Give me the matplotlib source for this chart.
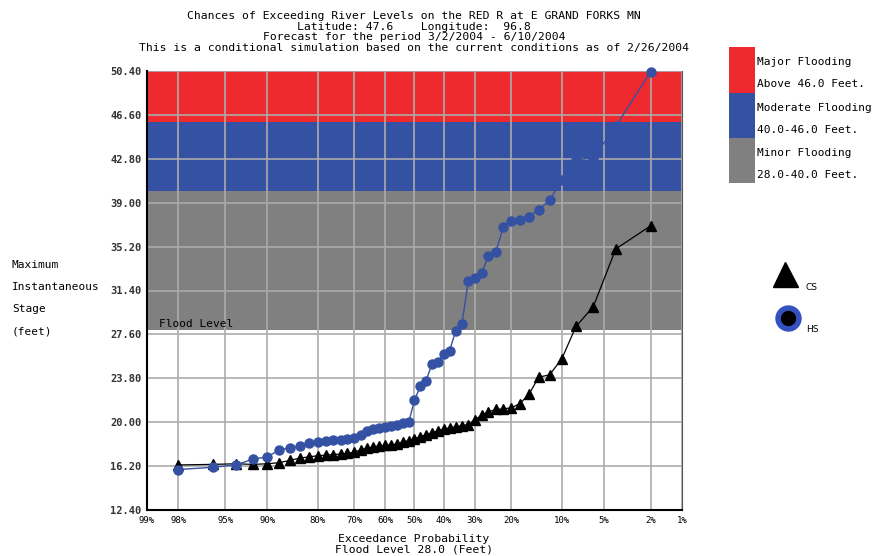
import numpy as np
import matplotlib
matplotlib.use("Agg")
import matplotlib.pyplot as plt
from matplotlib.patches import Rectangle
from matplotlib.lines import Line2D
from statistics import NormalDist

# exceedance probabilities (%) shared by both traces
prob = [98, 96, 94, 92, 90, 88, 86, 84, 82, 80, 78, 76, 74, 72, 70, 68, 66,
        64, 62, 60, 58, 56, 54, 52, 50, 48, 46, 44, 42, 40, 38, 36, 34, 32,
        30, 28, 26, 24, 22, 20, 18, 16, 14, 12, 10, 8, 6, 4, 2]

# conditional simulation (CS), feet
cs_stage = [16.3, 16.35, 16.4, 16.35, 16.4, 16.5, 16.7, 16.9, 17.0, 17.1,
            17.15, 17.2, 17.25, 17.3, 17.4, 17.6, 17.75, 17.85, 17.95, 18.0,
            18.05, 18.1, 18.3, 18.4, 18.55, 18.75, 18.9, 19.1, 19.25, 19.4,
            19.5, 19.6, 19.7, 19.8, 20.2, 20.6, 20.9, 21.1, 21.15, 21.25,
            21.6, 22.4, 23.9, 24.1, 25.5, 28.3, 30.0, 35.0, 37.0]

# historical simulation (HS), feet
hs_stage = [15.9, 16.1, 16.3, 16.8, 17.0, 17.6, 17.8, 17.9, 18.2, 18.3,
            18.4, 18.45, 18.5, 18.55, 18.6, 18.9, 19.2, 19.4, 19.5, 19.6,
            19.7, 19.8, 19.9, 20.0, 21.9, 23.1, 23.6, 25.0, 25.2, 25.9,
            26.2, 27.9, 28.5, 32.2, 32.5, 32.9, 34.4, 34.7, 36.9, 37.4,
            37.5, 37.8, 38.4, 39.2, 41.0, 42.7, 42.9, 45.6, 50.35]

x_ticks = [99, 98, 95, 90, 80, 70, 60, 50, 40, 30, 20, 10, 5, 2, 1]
y_ticks = [12.4, 16.2, 20.0, 23.8, 27.6, 31.4, 35.2, 39.0, 42.8, 46.6, 50.4]

minor_lvl, moderate_lvl, major_lvl = 28.0, 40.0, 46.0
red, blue, grey = "#ee2a2f", "#3451a3", "#808080"

nd = NormalDist()
_inv = np.vectorize(nd.inv_cdf, otypes=[float])
_cdf = np.vectorize(nd.cdf, otypes=[float])


# normal probability scale
def fwd(p):
    p = np.clip(np.asarray(p, dtype=float), 0.01, 99.99)
    return _inv(p / 100.0)


def back(z):
    return 100.0 * _cdf(np.asarray(z, dtype=float))


mono = "DejaVu Sans Mono"
plt.rcParams["font.family"] = mono

fig = plt.figure(figsize=(8.81, 5.56), dpi=100)
ax = fig.add_axes([147 / 881, 1 - 510 / 556, 535 / 881, 439 / 556])

ax.set_xscale("function", functions=(fwd, back))
ax.set_xlim(1, 99)
ax.set_ylim(12.4, 50.4)

# flood bands
ax.axhspan(major_lvl, 50.4, color=red, zorder=0, lw=0)
ax.axhspan(moderate_lvl, major_lvl, color=blue, zorder=0, lw=0)
ax.axhspan(minor_lvl, moderate_lvl, color=grey, zorder=0, lw=0)

ax.set_xticks(x_ticks)
ax.set_xticklabels([f"{t}%" for t in x_ticks], fontsize=6.5)
ax.xaxis.set_minor_locator(matplotlib.ticker.NullLocator())
ax.set_yticks(y_ticks)
ax.set_yticklabels([f"{t:.2f}" for t in y_ticks], fontsize=7.5,
                   fontweight="bold", color="#333333")
ax.tick_params(length=0, pad=4)
ax.grid(True, color="#ababab", lw=1.2, zorder=1)

# high probability on the left
px99 = ax.transData.transform((99, 20))[0]
px1 = ax.transData.transform((1, 20))[0]
if px99 > px1:
    ax.invert_xaxis()

ax.text(98.7, minor_lvl + 0.05, "Flood Level", fontsize=8, va="bottom",
        ha="left", color="black", zorder=3)

ax.spines["top"].set_visible(False)
ax.spines["right"].set_color("#555555")
ax.spines["left"].set_linewidth(1.5)
ax.spines["bottom"].set_linewidth(1.5)

ax.plot(prob, cs_stage, color="black", lw=0.9, marker="^", ms=7.5,
        zorder=4, clip_on=False)
ax.plot(prob, hs_stage, color=blue, lw=1.0, marker="o", ms=6.5,
        zorder=5, clip_on=False)

# titles
title_lines = [
    "Chances of Exceeding River Levels on the RED R at E GRAND FORKS MN",
    "Latitude: 47.6    Longitude:  96.8",
    "Forecast for the period 3/2/2004 - 6/10/2004",
    "This is a conditional simulation based on the current conditions as of 2/26/2004",
]
for i, line in enumerate(title_lines):
    fig.text(414 / 881, 1 - (16 + i * 10.5) / 556, line, ha="center",
             va="center", fontsize=8.2)

fig.text(414 / 881, 1 - 539 / 556, "Exceedance Probability", ha="center",
         va="center", fontsize=8.2)
fig.text(414 / 881, 1 - 549 / 556, "Flood Level 28.0 (Feet)", ha="center",
         va="center", fontsize=8.2)

for i, line in enumerate(["Maximum", "Instantaneous", "Stage", "(feet)"]):
    fig.text(12 / 881, 1 - (265 + i * 22) / 556, line, ha="left",
             va="center", fontsize=8)

# flood category legend
boxes = [(47, 93, red, "Major Flooding", "Above 46.0 Feet."),
         (93, 138, blue, "Moderate Flooding", "40.0-46.0 Feet."),
         (138, 183, grey, "Minor Flooding", "28.0-40.0 Feet.")]
for top, bot, col, t1, t2 in boxes:
    fig.patches.append(Rectangle((729 / 881, 1 - bot / 556), 26 / 881,
                                 (bot - top) / 556, transform=fig.transFigure,
                                 color=col, lw=0))
    fig.text(757 / 881, 1 - (top + 15) / 556, t1, fontsize=8, va="center")
    fig.text(757 / 881, 1 - (top + 37) / 556, t2, fontsize=8, va="center")

# series legend
fig.add_artist(Line2D([785 / 881], [1 - 274 / 556], marker="^", ms=18,
                      color="black", transform=fig.transFigure))
fig.text(806 / 881, 1 - 287 / 556, "CS", fontsize=6.5, va="center",
         family="DejaVu Sans")
fig.add_artist(Line2D([788 / 881], [1 - 318 / 556], marker="o", ms=15,
                      mfc="black", mec="#3451c0", mew=4,
                      transform=fig.transFigure))
fig.text(806 / 881, 1 - 330 / 556, "HS", fontsize=6.5, va="center",
         family="DejaVu Sans")

fig.savefig("out.png", dpi=100)
